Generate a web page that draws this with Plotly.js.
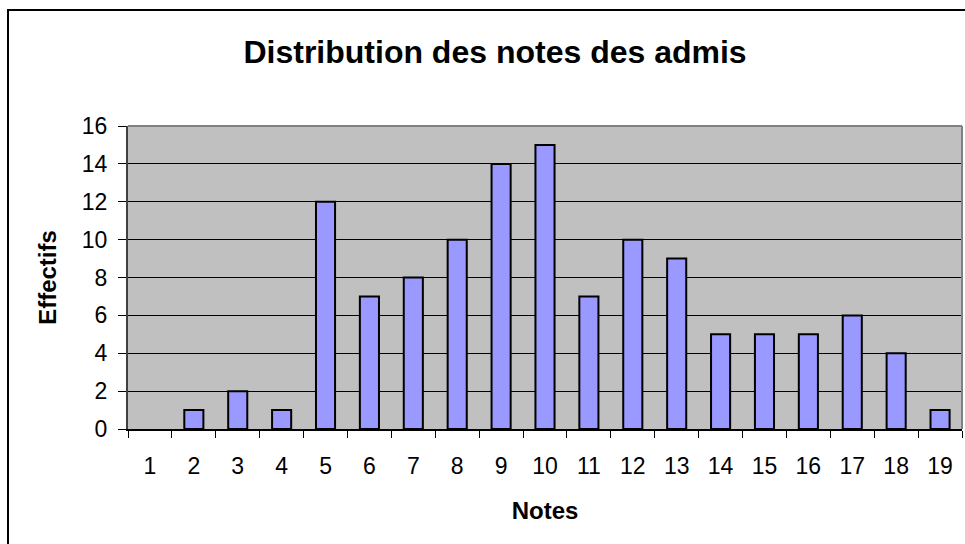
<!DOCTYPE html>
<html>
<head>
<meta charset="utf-8">
<script src="https://cdn.plot.ly/plotly-3.0.1.min.js"></script>
<style>
html,body{margin:0;padding:0;background:#fff;}
#chart{width:965px;height:544px;}
</style>
</head>
<body>
<div id="chart"></div>
<script>
const notes = ['1','2','3','4','5','6','7','8','9','10','11','12','13','14','15','16','17','18','19'];
const effectifs = [0,1,2,1,12,7,8,10,14,15,7,10,9,5,5,5,6,4,1];
const yTicks = [0,2,4,6,8,10,12,14,16];

const FONT = 'Arial, "Liberation Sans", sans-serif';

const trace = {
  type: 'bar',
  x: notes,
  y: effectifs,
  marker: {color: '#9999FF', line: {color: '#000000', width: effectifs.map(v => v ? 2 : 0)}},
  hoverinfo: 'x+y'
};

const layout = {
  width: 965,
  height: 544,
  margin: {l: 128, r: 3, t: 126, b: 115},
  paper_bgcolor: '#ffffff',
  plot_bgcolor: '#C0C0C0',
  bargap: 0.565,
  showlegend: false,
  font: {family: FONT, color: '#000000', size: 23},
  title: {
    text: '<b>Distribution des notes des admis</b>',
    font: {family: FONT, size: 32, color: '#000'},
    xref: 'container', x: 0.513, xanchor: 'center',
    yref: 'container', y: 0.905, yanchor: 'middle'
  },
  xaxis: {
    type: 'category',
    tickson: 'boundaries',
    ticks: 'outside', ticklen: 7, tickcolor: '#000', tickwidth: 1,
    ticklabelstandoff: 15,
    showgrid: false,
    showline: true, linecolor: '#000', linewidth: 2,
    tickfont: {family: FONT, size: 23},
    title: {text: '<b>Notes</b>', font: {family: FONT, size: 24}, standoff: 25}
  },
  yaxis: {
    range: [0, 16],
    tickvals: yTicks,
    ticktext: yTicks.map(String),
    ticks: 'outside', ticklen: 8, tickcolor: '#000', tickwidth: 1,
    ticklabelstandoff: 6,
    showgrid: true, gridcolor: '#000', gridwidth: 1,
    zeroline: false,
    showline: true, linecolor: '#404040', linewidth: 2,
    tickfont: {family: FONT, size: 23},
    title: {text: '<b>Effectifs</b>', font: {family: FONT, size: 24}, standoff: 18}
  },
  shapes: [
    {type: 'line', xref: 'paper', yref: 'paper', x0: 0, x1: 1, y0: 1, y1: 1,
     line: {color: '#808080', width: 2}},
    {type: 'line', xref: 'paper', yref: 'paper', x0: 1, x1: 1, y0: 0, y1: 1,
     line: {color: '#808080', width: 2}},
    {type: 'rect', xref: 'paper', yref: 'paper',
     x0: (8 - 128) / 834, x1: (980 - 128) / 834,
     y0: (429 - 560) / 303, y1: (429 - 10) / 303,
     line: {color: '#000', width: 2}, fillcolor: 'rgba(0,0,0,0)', layer: 'below'}
  ]
};

Plotly.newPlot('chart', [trace], layout, {displayModeBar: false, staticPlot: true});
</script>
</body>
</html>
